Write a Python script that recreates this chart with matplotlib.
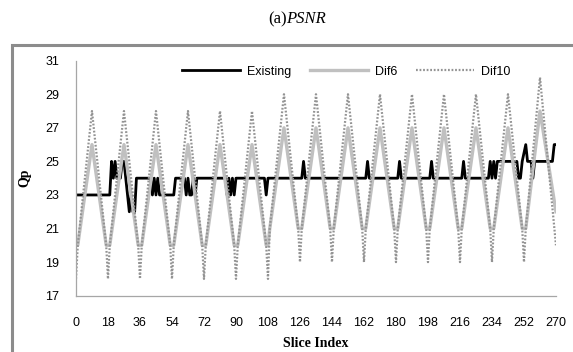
import matplotlib
matplotlib.use('Agg')
import matplotlib.pyplot as plt
from matplotlib.patches import Rectangle

# vertices (slice index, Qp)
existing_pts = [(0, 23), (19, 23), (20, 25), (21, 24), (22, 25), (23, 24), (25, 24), (26, 25),
                (27, 25), (28, 24), (29, 23), (30, 22), (31, 23), (32, 22), (33, 22), (34, 24),
                (42, 24), (43, 23), (44, 24), (45, 23), (46, 24), (47, 23), (55, 23), (56, 24),
                (61, 24), (62, 23), (63, 24), (64, 23), (65, 23), (66, 24), (67, 23), (68, 24),
                (84, 24), (85, 23), (86, 24), (87, 23), (88, 24), (89, 23), (90, 24),
                (106, 24), (107, 23), (108, 24), (127, 24), (128, 25), (129, 24),
                (163, 24), (164, 25), (165, 24), (181, 24), (182, 25), (183, 24),
                (199, 24), (200, 25), (201, 24), (217, 24), (218, 25), (219, 24),
                (232, 24), (233, 25), (234, 24), (235, 25), (236, 24), (237, 25),
                (248, 25), (249, 24), (250, 24), (251, 25), (253, 26), (254, 25),
                (256, 25), (257, 24), (258, 25), (268, 25), (269, 26), (270, 26)]

dif6_x = [0, 1, 9, 17, 19, 27, 35, 37, 45, 53, 55, 63, 71, 73, 81, 89, 91, 99,
          107, 108, 109, 117, 125, 127, 135, 143, 145, 153, 161, 163, 171,
          179, 181, 189, 197, 199, 207, 215, 217, 225, 233, 235, 243, 251, 253, 261, 270]
dif6_y = [20, 20, 26, 20, 20, 26, 20, 20, 26, 20, 20, 26, 20, 20, 26, 20, 20, 26,
          20, 20, 21, 27, 21, 21, 27, 21, 21, 27, 21, 21, 27,
          21, 21, 27, 21, 21, 27, 21, 21, 27, 21, 21, 27, 21, 21, 28, 22]

dif10_x = [0, 1, 9, 17, 18, 19, 27, 35, 36, 37, 45, 53, 54, 55, 63, 71, 72, 73, 81,
           89, 90, 91, 99, 107, 108, 109, 117, 125, 126, 127, 135, 143, 144, 145, 153,
           161, 162, 163, 171, 179, 180, 181, 189, 197, 198, 199, 207, 215, 216, 217, 225,
           233, 234, 235, 243, 251, 252, 253, 261, 270]
dif10_y = [18, 20, 28, 20, 18, 20, 28, 20, 18, 20, 28, 20, 18, 20, 28, 20, 18, 20, 28,
           20, 18, 20, 28, 20, 18, 21, 29, 21, 19, 21, 29, 21, 19, 21, 29,
           21, 19, 21, 29, 21, 19, 21, 29, 21, 19, 21, 29, 21, 19, 21, 29,
           21, 19, 21, 29, 21, 19, 21, 30, 20]

x_ticks = list(range(0, 271, 18))
y_ticks = [17, 19, 21, 23, 25, 27, 29, 31]

ex_x = [p[0] for p in existing_pts]
ex_y = [p[1] for p in existing_pts]

fig = plt.figure(figsize=(5.73, 3.52), dpi=100)

# chart frame
fig.patches.append(Rectangle((0.021, -0.05), 1.1, 0.922, transform=fig.transFigure,
                             fill=False, edgecolor='#8c8c8c', linewidth=2.2))

fig.text(0.5, 0.945, '(a)', ha='right', va='center', family='Liberation Serif', fontsize=12)
fig.text(0.5, 0.945, 'PSNR', ha='left', va='center', family='Liberation Serif',
         style='italic', fontsize=12)

ax = fig.add_axes([0.1326, 0.160, 0.8377, 0.6676])
ax.plot(ex_x, ex_y, color='black', lw=2.0, label='Existing')
ax.plot(dif6_x, dif6_y, color='#c0c0c0', lw=2.4, label='Dif6')
ax.plot(dif10_x, dif10_y, color='#939393', lw=1.6, ls=(0, (0.8, 0.8)), label='Dif10')

ax.set_xlim(0, 270)
ax.set_ylim(17, 31)
ax.set_xticks(x_ticks)
ax.set_yticks(y_ticks)
ax.tick_params(length=0, labelsize=9, colors='black')
ax.tick_params(axis='x', pad=15)
ax.tick_params(axis='y', pad=12)
for lab in ax.get_xticklabels() + ax.get_yticklabels():
    lab.set_family('Liberation Sans')
for s in ['top', 'right']:
    ax.spines[s].set_visible(False)
for s in ['left', 'bottom']:
    ax.spines[s].set_color('#a6a6a6')
    ax.spines[s].set_linewidth(0.9)

ax.set_xlabel('Slice Index', family='Liberation Serif', fontweight='bold', fontsize=10, labelpad=6)
ax.set_ylabel('Qp', family='Liberation Serif', fontweight='bold', fontsize=10, labelpad=10)

leg = ax.legend(loc='center', bbox_to_anchor=(0.5635, 0.953), ncol=3, frameon=False,
                handlelength=4.6, columnspacing=1.5, handletextpad=0.6,
                prop={'family': 'Liberation Sans', 'size': 9})

fig.savefig('out.png', dpi=100)
